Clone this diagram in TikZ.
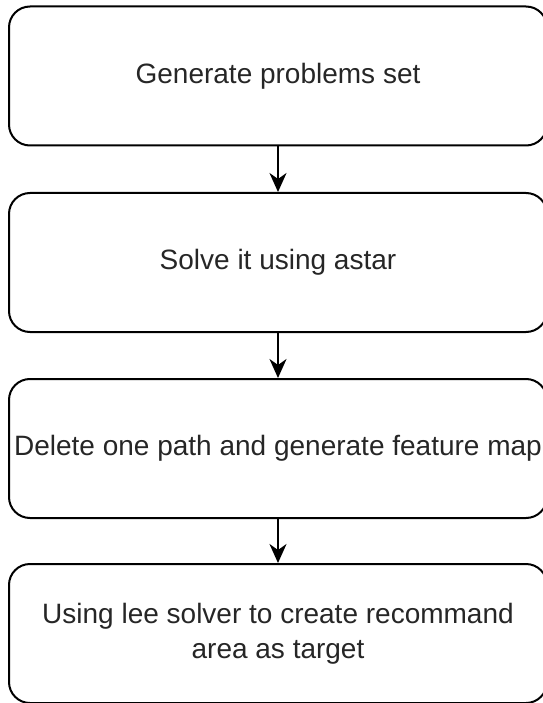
\documentclass[tikz,border=0pt]{standalone}
\usepackage{fontspec}
\setmainfont{Liberation Sans}
\usetikzlibrary{arrows.meta}
\begin{document}
\begin{tikzpicture}[x=1pt,y=-1pt,
  box/.style={draw=black,line width=2pt,rounded corners=21pt,minimum width=538pt,minimum height=139pt,inner sep=0pt,align=center,font=\fontsize{28}{35}\selectfont,text=black!85},
  conn/.style={line width=2pt,-{Stealth[length=19pt,width=17pt,inset=6pt]}}]
\useasboundingbox (0,0) rectangle (542,703);
\node[box] (b1) at (278,76) {Generate problems set};
\node[box] (b2) at (278,262.5) {Solve it using astar};
\node[box] (b3) at (278,448.5) {Delete one path and generate feature map};
\node[box] (b4) at (278,633.5) {\raisebox{-3pt}{\parbox{520pt}{\centering Using lee solver to create recommand\\area as target}}};
\draw[conn] (b1) -- (b2);
\draw[conn] (b2) -- (b3);
\draw[conn] (b3) -- (b4);
\end{tikzpicture}
\end{document}
